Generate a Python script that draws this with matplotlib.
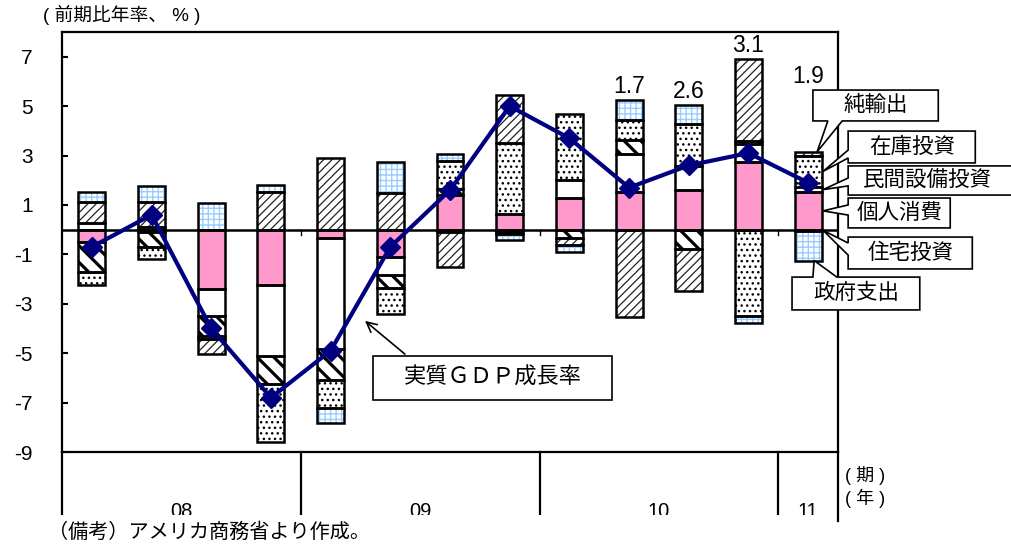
# 米国実質GDP成長率の需要項目別寄与度（積み上げ棒グラフ＋折れ線）

import numpy as np
import matplotlib.pyplot as plt
from matplotlib.patches import Polygon, Rectangle

plt.rcParams['font.family'] = ['Liberation Sans', 'Noto Sans CJK JP', 'DejaVu Sans']
plt.rcParams['axes.unicode_minus'] = False

# 2008年1期〜2011年1期
years = ['08', '09', '10', '11']
year_len = [4, 4, 4, 1]

consumption = [-0.50, -0.09, -2.42, -2.26, -0.32, -1.11, 1.40, 0.64, 1.28, 1.51, 1.59, 2.74, 1.52]
equipment = [0.25, 0.11, -1.06, -2.85, -4.52, -0.74, -0.10, -0.08, 0.72, 1.55, 0.98, 0.72, 0.20]
housing = [-1.22, -0.61, -0.81, -1.15, -1.26, -0.52, 0.24, -0.08, -0.34, 0.58, -0.79, 0.12, -0.05]
inventory = [-0.54, -0.47, -0.14, -2.35, -1.11, -1.04, 1.12, 2.85, 2.67, 0.79, 1.72, -3.50, 1.28]
net_exports = [0.86, 1.00, -0.60, 1.54, 2.90, 1.47, -1.40, 1.94, -0.28, -3.55, -1.69, 3.32, 0.15]
government = [0.43, 0.67, 1.07, 0.27, -0.61, 1.25, 0.31, -0.24, -0.30, 0.80, 0.77, -0.27, -1.20]
gdp = [-0.7, 0.6, -4.0, -6.8, -4.9, -0.7, 1.6, 5.0, 3.7, 1.7, 2.6, 3.1, 1.9]

names = ['個人消費', '民間設備投資', '住宅投資', '在庫投資', '純輸出', '政府支出']
series = [consumption, equipment, housing, inventory, net_exports, government]
# (塗り, ハッチ, ハッチ色, ハッチ線幅)
styles = [('#FF99CC', '', 'none', 1.0),
          ('white', '', 'none', 1.0),
          ('white', '\\\\', 'black', 2.3),
          ('white', '...', 'black', 1.0),
          ('white', '////', '#222222', 0.9),
          ('white', '+++', '#99CCFF', 1.0)]
labeled = [9, 10, 11, 12]   # 数値ラベルを付ける期

fig = plt.figure(figsize=(10.12, 5.49), dpi=100)
ax = fig.add_axes([62 / 1012, 97 / 549, 776 / 1012, 420 / 549])
ax.set_xlim(-0.5, 12.5)
ax.set_ylim(-9, 8)

x = np.arange(len(gdp))
width = 0.45
pos = np.zeros(len(x))
neg = np.zeros(len(x))
seg = {}
for name, vals, (fc, hatch, hc, hlw) in zip(names, series, styles):
    v = np.array(vals)
    bottom = np.where(v >= 0, pos, neg)
    with plt.rc_context({'hatch.linewidth': hlw}):
        bars = ax.bar(x, v, width, bottom=bottom, color=fc, hatch=hatch or None,
                      edgecolor=hc, linewidth=0, zorder=2)
    for p in bars:
        if hasattr(p, 'set_hatch_linewidth'):
            p.set_hatch_linewidth(hlw)
    ax.bar(x, v, width, bottom=bottom, fill=False, edgecolor='black', linewidth=1.8, zorder=3)
    seg[name] = (bottom, bottom + v)
    pos = np.where(v >= 0, pos + v, pos)
    neg = np.where(v < 0, neg + v, neg)

ax.axhline(0, color='black', lw=1.8, zorder=4)
for b in [3.5, 7.5, 11.5]:
    ax.plot([b, b], [0, -0.22], color='black', lw=1, zorder=4)

ax.plot(x, gdp, color='#000080', lw=3, marker='D', markersize=10, zorder=5)

# 数値ラベル
for i in labeled:
    ty = pos[i] + 0.55 if i != 12 else 6.18
    ax.text(x[i], ty, f'{gdp[i]:.1f}', ha='center', va='center', fontsize=16.5)

# 軸
ax.set_xticks([])
ax.set_yticks(range(-9, 8, 2))
ax.tick_params(axis='y', direction='in', length=4, width=1.5, labelsize=15, pad=21)
for s in ax.spines.values():
    s.set_linewidth(1.6)

# 年の区切りと年ラベル
edges = np.concatenate([[0], np.cumsum(year_len)]) - 0.5
for e in edges[:-1]:
    ax.plot([e, e], [0, -0.15], transform=ax.get_xaxis_transform(), color='black',
            lw=1.6, clip_on=False)
ax.plot([edges[-1]] * 2, [0, -0.165], transform=ax.get_xaxis_transform(), color='black',
        lw=1.6, clip_on=False)
for k, yr in enumerate(years):
    ax.text((edges[k] + edges[k + 1]) / 2, -0.142, yr, transform=ax.get_xaxis_transform(),
            ha='center', va='center', fontsize=14.5, clip_on=False)
ax.text(12.95, -0.055, '( 期 )', transform=ax.get_xaxis_transform(), ha='center',
        va='center', fontsize=13, clip_on=False)
ax.text(12.95, -0.11, '( 年 )', transform=ax.get_xaxis_transform(), ha='center',
        va='center', fontsize=13, clip_on=False)


def callout(x0, x1, yb, yt, tip, side, w0, w1, text, ha='center'):
    if side == 'left':
        pts = [(x0, yt), (x1, yt), (x1, yb), (x0, yb), (x0, w1), tip, (x0, w0)]
    elif side == 'bottom':
        pts = [(x0, yt), (x1, yt), (x1, yb), (w1, yb), tip, (w0, yb), (x0, yb)]
    else:
        pts = [(x0, yt), (w0, yt), tip, (w1, yt), (x1, yt), (x1, yb), (x0, yb)]
    ax.add_patch(Polygon(pts, closed=True, facecolor='white', edgecolor='black',
                         lw=1.2, zorder=6, clip_on=False))
    tx = (x0 + x1) / 2 if ha == 'center' else x0 + 0.24
    ax.text(tx, (yb + yt) / 2, text, ha=ha, va='center', fontsize=15.5, zorder=7,
            clip_on=False)


last = len(x) - 1
right = x[last] + 0.25


def mid(name):
    b, t = seg[name]
    return (b[last] + t[last]) / 2


callout(12.08, 14.18, 4.40, 5.65, (x[last] + 0.15, pos[last]), 'bottom', 12.33, 12.57, '純輸出')
callout(12.67, 14.80, 2.70, 3.99, (right, mid('在庫投資')), 'left', 3.22, 2.90, '在庫投資')
callout(12.67, 15.63, 1.40, 2.58, (right, mid('民間設備投資')), 'left', 2.09, 1.77, '民間設備投資',
        ha='left')
callout(12.67, 14.38, 0.07, 1.28, (right, mid('個人消費')), 'left', 1.00, 0.59, '個人消費')
callout(12.67, 14.75, -1.59, -0.30, (right, -0.03), 'left', -0.54, -1.03, '住宅投資')
callout(11.73, 13.87, -3.25, -1.92, (x[last] + 0.1, neg[last]), 'top', 12.08, 12.48, '政府支出')

# 実質GDP成長率の吹き出し
ax.add_patch(Rectangle((4.71, -6.90), 4.0, 1.79, facecolor='white', edgecolor='black',
                       lw=1.2, zorder=6))
ax.text(6.71, -6.0, '実質ＧＤＰ成長率', ha='center', va='center', fontsize=16, zorder=7)
ax.annotate('', xy=(4.54, -3.62), xytext=(5.28, -5.11),
            arrowprops=dict(arrowstyle='->', color='black', lw=1.2, mutation_scale=18),
            zorder=7)

# 下端の処理と注記
fig.patches.append(Rectangle((0, 0), 830 / 1012, 34 / 549, transform=fig.transFigure,
                             facecolor='white', edgecolor='none', zorder=1))
fig.text(43 / 1012, 1 - 15 / 549, '( 前期比年率、 % )', ha='left', va='center', fontsize=13.5)
fig.text(634 / 1012, 1 + 9 / 549, '実質ＧＤＰ成長率の寄与度', ha='center', va='center',
         fontsize=14, fontweight='bold')
fig.text(48 / 1012, 17 / 549, '（備考）アメリカ商務省より作成。', ha='left', va='center',
         fontsize=14.5, zorder=2)

plt.savefig('out.png', dpi=100)
